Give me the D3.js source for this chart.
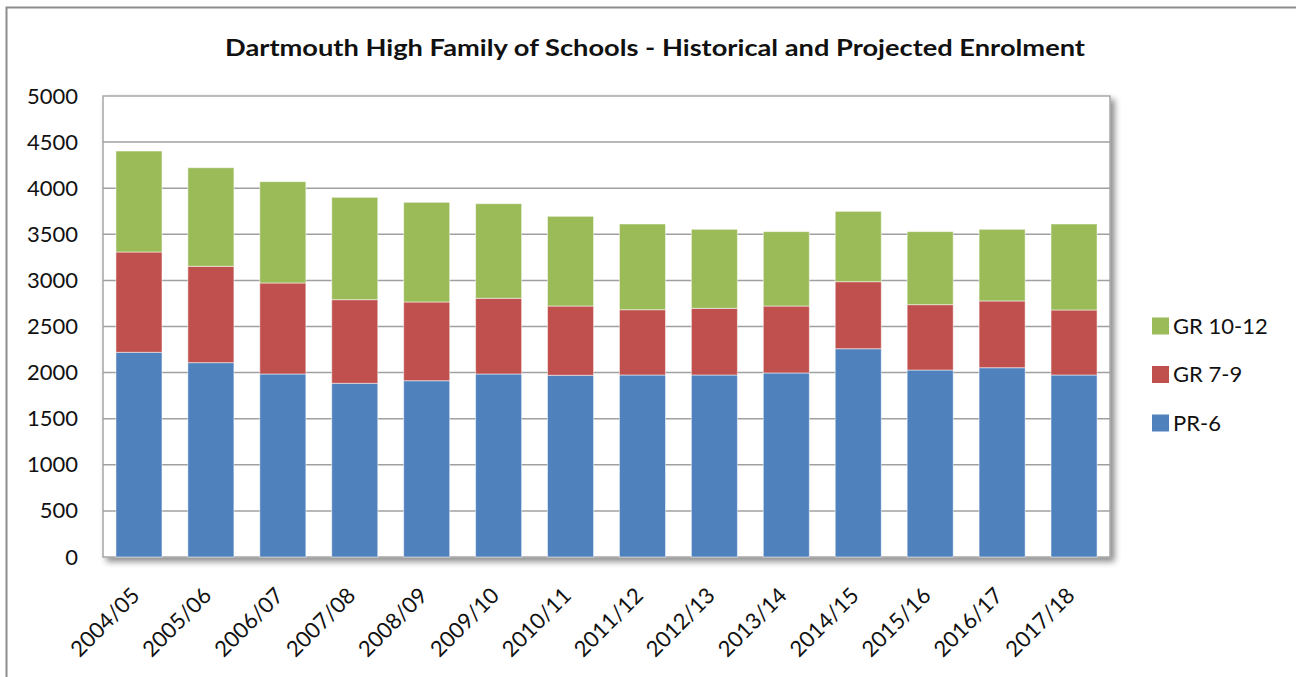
<!DOCTYPE html>
<html><head><meta charset="utf-8">
<script src="https://cdn.jsdelivr.net/npm/d3@7"></script>
<style>
html,body{margin:0;padding:0;background:#fff;}
svg{display:block;font-family:Lato,"Open Sans",sans-serif;}
</style></head>
<body><svg id="chart" width="1296" height="677"></svg>
<script>
const years = ["2004/05","2005/06","2006/07","2007/08","2008/09","2009/10","2010/11","2011/12","2012/13","2013/14","2014/15","2015/16","2016/17","2017/18"];
const pr6    = [2220,2108,1985,1884,1912,1985,1971,1974,1974,1996,2259,2028,2053,1974];
const gr79   = [1088,1045, 987, 907, 854, 821, 751, 708, 723, 726, 727, 709, 724, 705];
const gr1012 = [1095,1069,1099,1110,1081,1026, 973, 930, 857, 807, 763, 792, 777, 933];
const seriesNames = ["PR-6","GR 7-9","GR 10-12"];
const seriesColors = ["#4f81bd","#c0504d","#9bbb59"];
const yTicks = [0,500,1000,1500,2000,2500,3000,3500,4000,4500,5000];
const title = "Dartmouth High Family of Schools - Historical and Projected Enrolment";

const svg = d3.select("#chart");
const plot = {left:103, right:1110, top:96, bottom:557};

// outer frame
svg.append("rect").attr("x",6.5).attr("y",7.5).attr("width",1300).attr("height",700)
  .attr("fill","#fff").attr("stroke","#8c8c8c").attr("stroke-width",2);

const defs = svg.append("defs");
const f = defs.append("filter").attr("id","sh").attr("x","-5%").attr("y","-5%").attr("width","115%").attr("height","115%");
f.append("feGaussianBlur").attr("in","SourceAlpha").attr("stdDeviation",3);
f.append("feOffset").attr("dx",4).attr("dy",4).attr("result","b");
f.append("feComponentTransfer").append("feFuncA").attr("type","linear").attr("slope",0.45);
const m = f.append("feMerge"); m.append("feMergeNode"); m.append("feMergeNode").attr("in","SourceGraphic");

svg.append("rect").attr("x",plot.left).attr("y",plot.top)
  .attr("width",plot.right-plot.left).attr("height",plot.bottom-plot.top)
  .attr("fill","#fff").attr("stroke","#a6a6a6").attr("stroke-width",1.5).attr("filter","url(#sh)");

const x = d3.scaleBand().domain(years).range([plot.left,plot.right]).paddingInner(0.36).paddingOuter(0.18);
const y = d3.scaleLinear().domain([0,5000]).range([plot.bottom,plot.top]);

// gridlines
svg.append("g").selectAll("line").data(yTicks.filter(t=>t>0&&t<5000)).join("line")
  .attr("x1",plot.left).attr("x2",plot.right).attr("y1",d=>y(d)).attr("y2",d=>y(d))
  .attr("stroke","#a0a0a0").attr("stroke-width",1.5);

// y axis
const yAxis = svg.append("g").attr("transform",`translate(${plot.left},0)`)
  .call(d3.axisLeft(y).tickValues(yTicks).tickFormat(d3.format("d")).tickSize(0).tickPadding(25));
yAxis.select(".domain").remove();
yAxis.selectAll("text").attr("font-size",22).attr("fill","#111").attr("font-family","Lato,sans-serif");

// stacked data
const table = years.map((yr,i)=>({year:yr,"PR-6":pr6[i],"GR 7-9":gr79[i],"GR 10-12":gr1012[i]}));
const stack = d3.stack().keys(seriesNames)(table);
svg.append("g").selectAll("g").data(stack).join("g")
  .attr("fill",(d,i)=>seriesColors[i])
  .selectAll("rect").data(d=>d).join("rect")
  .attr("x",d=>x(d.data.year)).attr("width",x.bandwidth())
  .attr("y",d=>y(d[1])).attr("height",d=>y(d[0])-y(d[1]))
  .attr("stroke","#ffffff").attr("stroke-opacity",0.5).attr("stroke-width",1);

// x axis
const xAxis = svg.append("g").attr("transform",`translate(0,${plot.bottom})`)
  .call(d3.axisBottom(x).tickSize(0).tickPadding(0));
xAxis.select(".domain").remove();
xAxis.selectAll("text").attr("font-size",22).attr("fill","#111").attr("font-family","Lato,sans-serif")
  .attr("text-anchor","end").attr("dy",0)
  .attr("transform","translate(2,40) rotate(-45)");

// title
svg.append("text").attr("x",655).attr("y",56).attr("text-anchor","middle")
  .attr("font-size",23.5).attr("font-weight","bold").attr("fill","#111")
  .attr("textLength",860).attr("lengthAdjust","spacingAndGlyphs").text(title);

// legend
const legendOrder = [2,1,0];
const lg = svg.append("g").selectAll("g").data(legendOrder).join("g")
  .attr("transform",(d,i)=>`translate(1152,${326+i*48.5})`);
lg.append("rect").attr("x",0).attr("y",-8.5).attr("width",17).attr("height",17).attr("fill",d=>seriesColors[d]);
lg.append("text").attr("x",21).attr("y",0).attr("dy","0.36em").attr("font-size",22).attr("fill","#111")
  .text(d=>seriesNames[d]);
</script></body></html>
